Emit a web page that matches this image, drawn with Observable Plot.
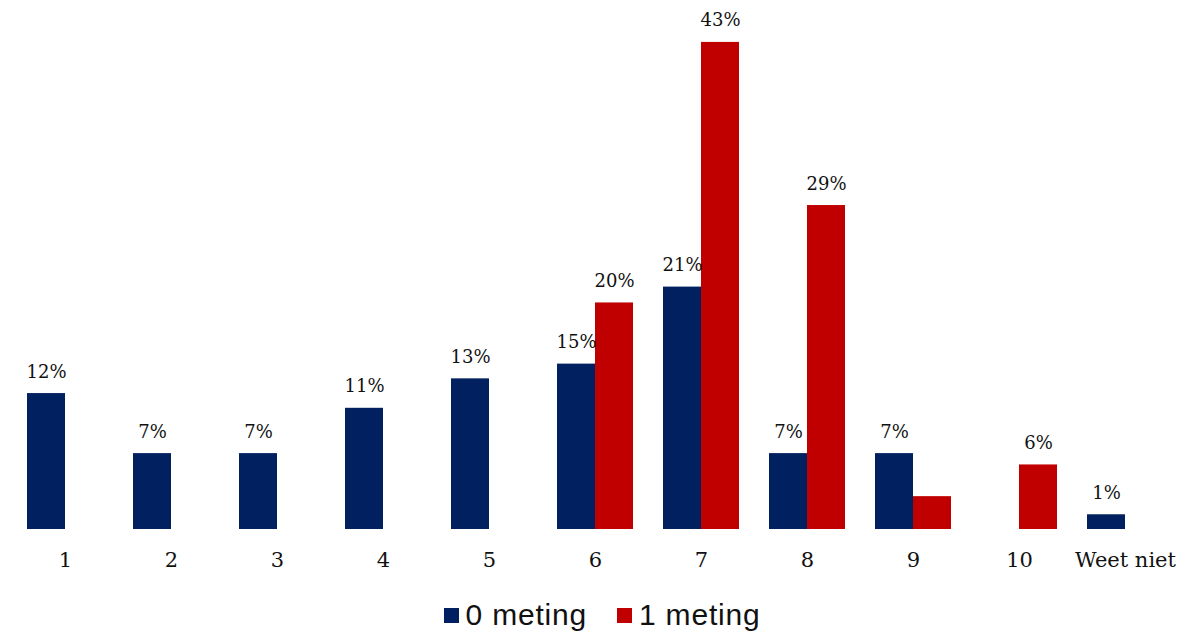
<!DOCTYPE html>
<html>
<head>
<meta charset="utf-8">
<script src="https://cdn.jsdelivr.net/npm/d3@7"></script>
<script src="https://cdn.jsdelivr.net/npm/@observablehq/plot@0.6"></script>
<style>
  body { margin: 0; background: #fff; }
  #legend { display: flex; justify-content: center; align-items: center; height: 38px; margin-top: 2px;
            font-family: "Liberation Sans", Arial, sans-serif; font-size: 30px; letter-spacing: 0.8px; color: #111; }
  #legend .item { display: flex; align-items: center; margin: 0 15px; }
  #legend .sw { width: 15px; height: 15px; margin-right: 7px; }
</style>
</head>
<body>
<div id="chart"></div>
<div id="legend"></div>
<script>
const categories = ["1","2","3","4","5","6","7","8","9","10","Weet niet"];
const series = ["0 meting","1 meting"];
const colors = ["#002060","#C00000"];
const meting0 = [12.0, 6.7, 6.7, 10.7, 13.3, 14.6, 21.4, 6.7, 6.7, null, 1.3];
const meting1 = [null, null, null, null, null, 20.0, 43.0, 28.6, 2.9, 5.7, null];
const labels0 = ["12%","7%","7%","11%","13%","15%","21%","7%","7%",null,"1%"];
const labels1 = [null,null,null,null,null,"20%","43%","29%",null,"6%",null];

const data = [];
categories.forEach((c, i) => {
  if (meting0[i] != null) data.push({cat: c, series: series[0], value: meting0[i], label: labels0[i]});
  if (meting1[i] != null) data.push({cat: c, series: series[1], value: meting1[i], label: labels1[i]});
});

const chart = Plot.plot({
  width: 1204,
  height: 594,
  marginLeft: 10,
  marginRight: 24,
  marginTop: 0,
  marginBottom: 65,
  style: {fontFamily: "'DejaVu Serif', Georgia, serif", fontSize: "21px", color: "#111"},
  fx: {domain: categories, paddingInner: 0.286, paddingOuter: 0.143, label: null, tickSize: 0, tickPadding: 23, axis: "bottom"},
  x: {domain: series, axis: null, padding: 0},
  y: {domain: [0, 46.7], axis: null},
  color: {domain: series, range: colors},
  marks: [
    Plot.barY(data, {fx: "cat", x: "series", y: "value", fill: "series"}),
    Plot.text(data.filter(d => d.label), {fx: "cat", x: "series", y: "value", text: "label",
      dy: -16, lineAnchor: "bottom", fontSize: 18, fill: "#111"})
  ]
});
document.getElementById("chart").appendChild(chart);

const legend = document.getElementById("legend");
series.forEach((s, i) => {
  const item = document.createElement("div");
  item.className = "item";
  const sw = document.createElement("span");
  sw.className = "sw";
  sw.style.background = colors[i];
  item.appendChild(sw);
  item.appendChild(document.createTextNode(s));
  legend.appendChild(item);
});
</script>
</body>
</html>
